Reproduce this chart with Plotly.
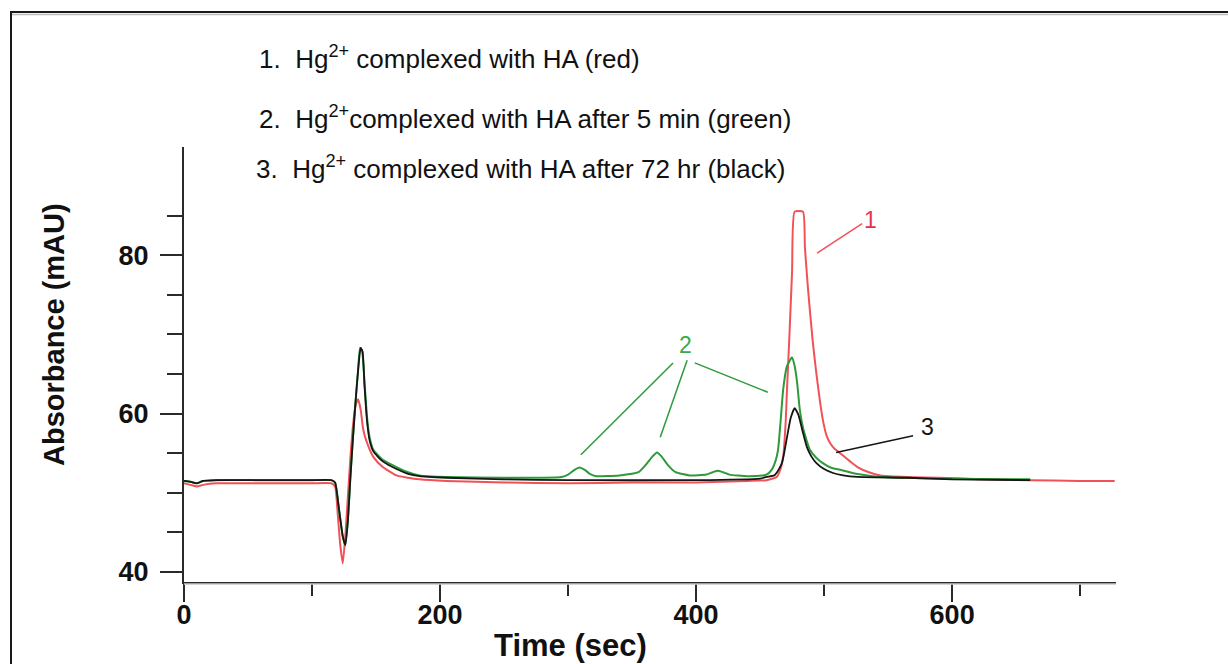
import plotly.graph_objects as go

# ---- data ----
red_t = [0, 5, 10, 15, 25, 60, 100, 115, 118, 120, 122, 124, 126, 128, 130, 132, 134, 136, 138, 140, 143, 148, 155,
         166, 175, 184, 205, 250, 300, 350, 400, 440, 455, 460, 463, 466, 468, 470, 471, 473, 475, 477, 483.5, 485,
         487.5, 491, 494, 497, 499.5, 502, 505, 508, 512.5, 520, 526, 535, 544, 565, 590, 620, 660, 700, 727]
red_v = [51.2, 51.0, 50.8, 51.0, 51.2, 51.2, 51.2, 51.2, 50.8, 47.5, 43.5, 41.1, 44.5, 49.5, 54.5, 58.5, 61.0, 61.8,
         60.5, 58.0, 56.3, 54.5, 53.3, 52.2, 51.9, 51.7, 51.5, 51.3, 51.2, 51.3, 51.3, 51.5, 51.6, 51.8, 52.0, 53.0,
         54.5, 59.0, 63.0, 70.2, 78.0, 85.5, 85.5, 81.0, 75.6, 69.3, 65.0, 61.3, 58.8, 57.2, 56.2, 55.6, 55.0, 54.0,
         53.25, 52.6, 52.2, 52.0, 51.9, 51.7, 51.6, 51.5, 51.5]

green_t = [0, 5, 10, 15, 25, 60, 100, 115, 118, 121, 124, 126, 128, 130, 132, 134, 136, 137.5, 139, 141, 143, 145,
           148, 155, 166, 175, 184, 205, 250, 280, 295, 300, 305, 309, 313, 317, 322, 340, 355, 361, 366, 369.5, 373,
           378, 384, 395, 408, 413, 417, 421, 426, 440, 452, 455, 459, 462, 464, 466, 468, 471, 475, 477, 479, 481,
           484, 489, 494, 499, 505, 512.5, 525, 538, 560, 600, 640, 661]
green_v = [51.5, 51.4, 51.2, 51.5, 51.6, 51.6, 51.6, 51.6, 51.3, 48.0, 44.5, 43.4, 46.5, 52.0, 57.0, 61.5, 65.5, 68.3,
           68.0, 64.0, 59.5, 57.0, 55.4, 54.2, 53.25, 52.6, 52.2, 52.0, 51.9, 51.9, 52.0, 52.3, 52.9, 53.2, 52.9, 52.4,
           52.1, 52.2, 52.6, 53.6, 54.6, 55.1, 54.6, 53.5, 52.6, 52.2, 52.3, 52.6, 52.8, 52.6, 52.3, 52.1, 52.2, 52.3,
           52.9, 54.0, 55.4, 59.0, 63.0, 66.0, 67.1, 66.0, 63.8, 60.5, 57.9, 55.4, 54.4, 53.75, 53.2, 52.9, 52.4, 52.1,
           51.9, 51.8, 51.7, 51.7]

black_t = [0, 5, 10, 15, 25, 60, 100, 115, 118, 121, 124, 126, 128, 130, 132, 134, 136, 138, 139.5, 141, 143, 145,
           148, 155, 166, 175, 184, 205, 250, 300, 400, 450, 455, 461, 464, 467, 469, 471, 474, 477, 480, 483, 486.5,
           490, 494, 500, 507, 515, 526, 565, 600, 661]
black_v = [51.5, 51.4, 51.2, 51.5, 51.6, 51.6, 51.6, 51.6, 51.3, 48.0, 44.5, 43.4, 46.5, 52.0, 57.0, 61.5, 65.5, 68.3,
           67.8, 63.5, 59.0, 56.6, 55.2, 54.0, 53.0, 52.4, 52.1, 51.9, 51.7, 51.6, 51.6, 51.8, 52.0, 52.2, 52.8, 53.75,
           55.2, 57.0, 59.5, 60.7, 59.8, 57.9, 55.8, 54.6, 53.75, 53.0, 52.5, 52.2, 52.0, 51.9, 51.7, 51.6]

x_major = [0, 200, 400, 600]
x_minor = [100, 300, 500, 700]
y_major = [40, 60, 80]
y_minor = [45, 50, 55, 65, 70, 75, 85]

legend_lines = [
    "1.\u00a0 Hg<sup>2+</sup> complexed with HA (red)",
    "2.\u00a0 Hg<sup>2+</sup>complexed with HA after 5 min (green)",
    "3.\u00a0 Hg<sup>2+</sup> complexed with HA after 72 hr (black)",
]

# ---- layout geometry ----
W, H = 1228, 664
L, R, T, B = 184, 1116, 147, 582
pw, ph = R - L, B - T


def px(x):
    return (x - L) / pw


def py(y):
    return (B - y) / ph


RED = "#f05258"
GREEN = "#2e9a3c"
BLACK = "#151515"
FONT = "Arial, Liberation Sans, sans-serif"

fig = go.Figure()
fig.add_trace(go.Scatter(x=red_t, y=red_v, mode="lines", line=dict(color=RED, width=2, shape="spline", smoothing=0.5),
                         name="1"))
fig.add_trace(go.Scatter(x=green_t, y=green_v, mode="lines",
                         line=dict(color=GREEN, width=2, shape="spline", smoothing=0.5), name="2"))
fig.add_trace(go.Scatter(x=black_t, y=black_v, mode="lines",
                         line=dict(color=BLACK, width=1.8, shape="spline", smoothing=0.5), name="3"))

shapes = []
# outer frame (left and top edges)
shapes.append(dict(type="line", xref="paper", yref="paper", x0=px(11), x1=px(11), y0=py(12), y1=py(700),
                   line=dict(color="#1a1a1a", width=2)))
shapes.append(dict(type="line", xref="paper", yref="paper", x0=px(10), x1=px(1300), y0=py(12), y1=py(12),
                   line=dict(color="#1a1a1a", width=2)))
shapes.append(dict(type="line", xref="paper", yref="paper", x0=px(12), x1=px(1300), y0=py(14.5), y1=py(14.5),
                   line=dict(color="#bdbdbd", width=1.5)))
# x-axis shadow
shapes.append(dict(type="line", xref="paper", yref="paper", x0=0, x1=1, y0=py(584), y1=py(584),
                   line=dict(color="#c8c8c8", width=1.5)))

# leader lines (data coords)
leaders = [
    (RED, 529.7, 84.0, 494.5, 80.25),
    (GREEN, 382, 66.4, 310, 54.8),
    (GREEN, 393, 66.75, 372, 57.0),
    (GREEN, 399, 66.4, 456, 62.7),
    (BLACK, 569.5, 57.2, 509.4, 55.1),
]
for c, x0, y0, x1, y1 in leaders:
    shapes.append(dict(type="line", xref="x", yref="y", x0=x0, y0=y0, x1=x1, y1=y1,
                       line=dict(color=c, width=1.5)))

annotations = []
for txt, c, x, y in [("1", "#e8304a", 536, 84.4), ("2", "#3aaa48", 391.4, 68.6), ("3", BLACK, 580.5, 58.3)]:
    annotations.append(dict(text=txt, x=x, y=y, xref="x", yref="y", showarrow=False,
                            font=dict(family=FONT, size=23, color=c)))

for txt, (lx, ly) in zip(legend_lines, [(257, 57), (257, 117), (254, 167)]):
    annotations.append(dict(text=txt, x=px(lx), y=py(ly), xref="paper", yref="paper", xanchor="left",
                            yanchor="middle", showarrow=False, font=dict(family=FONT, size=26, color="#111")))

annotations.append(dict(text="Time (sec)", x=px(570), y=py(645), xref="paper", yref="paper", showarrow=False,
                        xanchor="center", yanchor="middle",
                        font=dict(family=FONT, size=31, color="#111", weight="bold")))
annotations.append(dict(text="Absorbance (mAU)", x=px(54), y=py(335), xref="paper", yref="paper", showarrow=False,
                        textangle=-90, xanchor="center", yanchor="middle",
                        font=dict(family=FONT, size=29, color="#111", weight="bold")))

fig.update_layout(
    width=W, height=H,
    margin=dict(l=L, r=W - R, t=T, b=H - B, pad=0),
    paper_bgcolor="white", plot_bgcolor="white",
    showlegend=False,
    shapes=shapes,
    annotations=annotations,
    xaxis=dict(range=[0, 728], showgrid=False, zeroline=False, showline=True, linecolor="#2a2a2a", linewidth=2,
               tickmode="array", tickvals=x_major, ticktext=[str(v) for v in x_major],
               ticks="outside", ticklen=18, tickwidth=2, tickcolor="#2a2a2a",
               minor=dict(tickmode="array", tickvals=x_minor, ticks="outside", ticklen=12, tickwidth=2,
                          tickcolor="#2a2a2a", showgrid=False),
               tickfont=dict(family=FONT, size=27, color="#111", weight="bold"), ticklabelstandoff=-10),
    yaxis=dict(range=[38.74, 93.66], showgrid=False, zeroline=False, showline=True, linecolor="#2a2a2a",
               linewidth=2,
               tickmode="array", tickvals=y_major, ticktext=[str(v) for v in y_major],
               ticks="outside", ticklen=22, tickwidth=2, tickcolor="#2a2a2a",
               minor=dict(tickmode="array", tickvals=y_minor, ticks="outside", ticklen=15, tickwidth=2,
                          tickcolor="#2a2a2a", showgrid=False),
               tickfont=dict(family=FONT, size=27, color="#111", weight="bold"), ticklabelstandoff=6),
)

fig.write_html("out.html")
